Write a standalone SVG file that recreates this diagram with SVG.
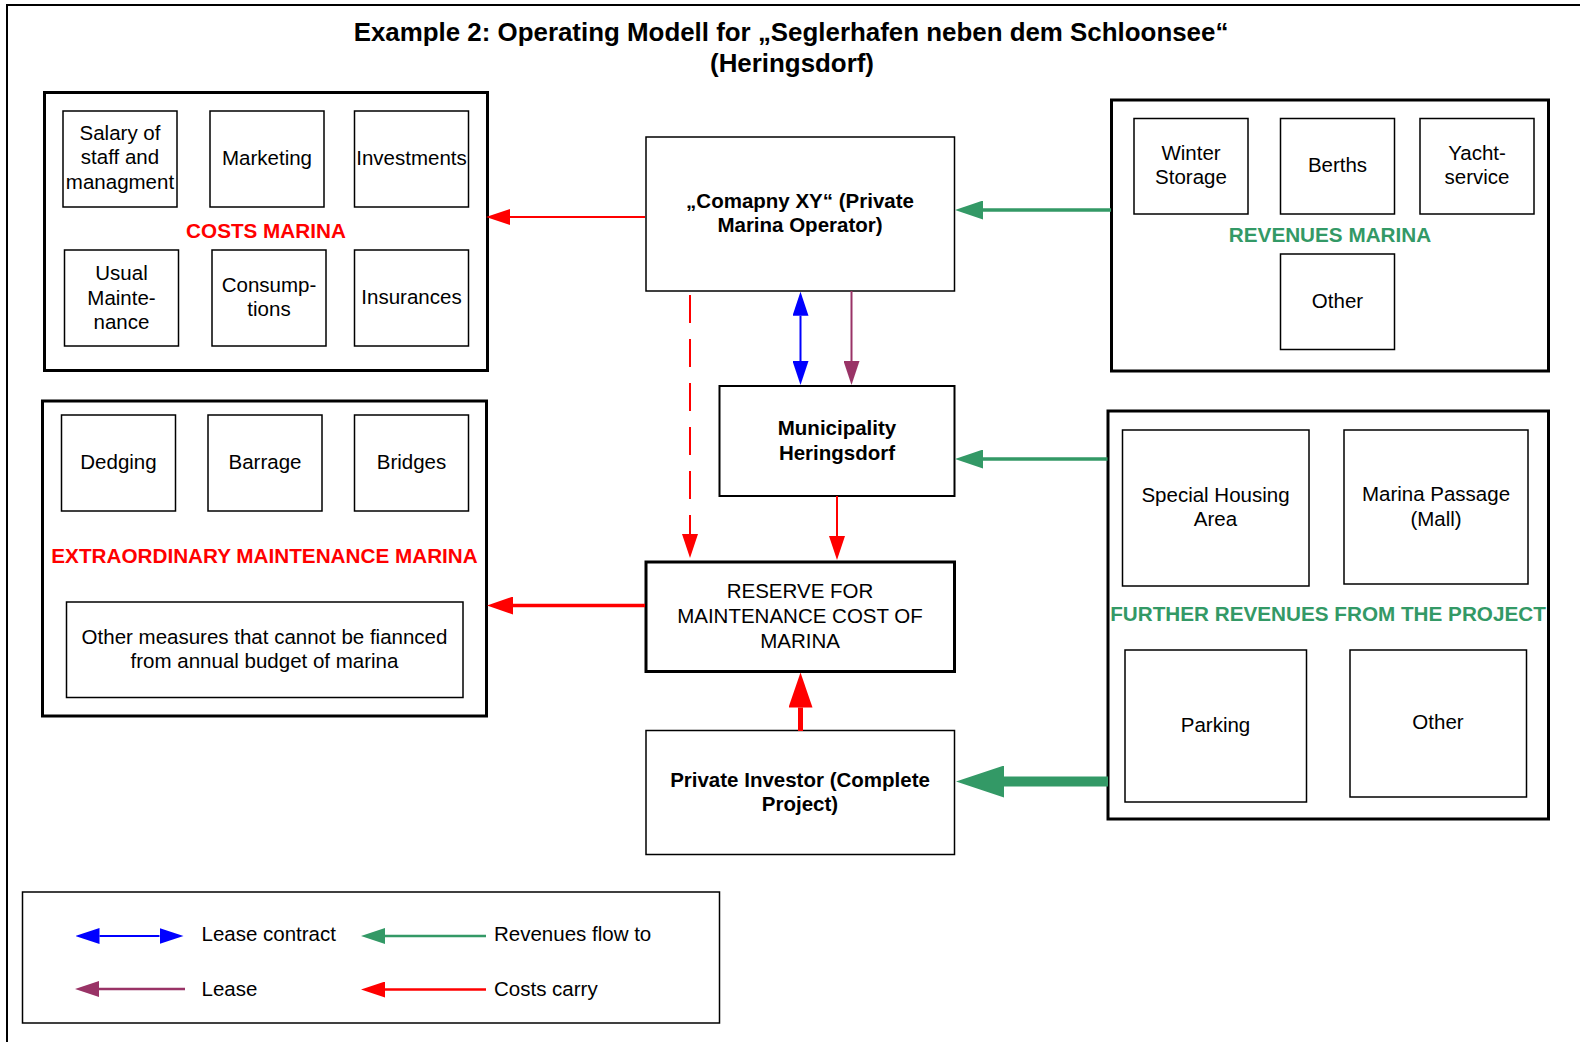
<svg xmlns="http://www.w3.org/2000/svg" width="1580" height="1042" viewBox="0 0 1580 1042">
<style>
  text { font-family: "Liberation Sans", Arial, sans-serif; font-size: 20.5px; fill: #000; text-anchor: middle; }
  .b { font-weight: bold; }
  .title { font-weight: bold; font-size: 25.9px; }
  .red { fill: #FF0000; font-weight: bold; font-size: 20.7px; }
  .grn { fill: #339966; font-weight: bold; font-size: 20.7px; }
  .lt { text-anchor: start; }
  .box { fill: #fff; stroke: #000; stroke-width: 1.5; }
  .med { fill: #fff; stroke: #000; stroke-width: 2; }
  .cont { fill: #fff; stroke: #000; stroke-width: 3; }
  .c { fill: none; }
</style>
<defs>
  <marker id="hRed" markerUnits="userSpaceOnUse" viewBox="0 -8 24 16" markerWidth="24" markerHeight="16" refX="0" refY="0" orient="auto"><path d="M0,-8 L24,0 L0,8 z" fill="#FF0000"/></marker>
  <marker id="hRedM" markerUnits="userSpaceOnUse" viewBox="0 -9 26 18" markerWidth="26" markerHeight="18" refX="0" refY="0" orient="auto"><path d="M0,-9 L26,0 L0,9 z" fill="#FF0000"/></marker>
  <marker id="hRedL" markerUnits="userSpaceOnUse" viewBox="0 -12 35 24" markerWidth="35" markerHeight="24" refX="0" refY="0" orient="auto"><path d="M0,-12 L35,0 L0,12 z" fill="#FF0000"/></marker>
  <marker id="hBlue" markerUnits="userSpaceOnUse" viewBox="0 -8 24 16" markerWidth="24" markerHeight="16" refX="0" refY="0" orient="auto-start-reverse"><path d="M0,-8 L24,0 L0,8 z" fill="#0000FF"/></marker>
  <marker id="hPur" markerUnits="userSpaceOnUse" viewBox="0 -8 24 16" markerWidth="24" markerHeight="16" refX="0" refY="0" orient="auto"><path d="M0,-8 L24,0 L0,8 z" fill="#993366"/></marker>
  <marker id="hGrn" markerUnits="userSpaceOnUse" viewBox="0 -9.5 28 19" markerWidth="28" markerHeight="19" refX="0" refY="0" orient="auto"><path d="M0,-9.5 L28,0 L0,9.5 z" fill="#339966"/></marker>
  <marker id="hGrnS" markerUnits="userSpaceOnUse" viewBox="0 -8 24 16" markerWidth="24" markerHeight="16" refX="0" refY="0" orient="auto"><path d="M0,-8 L24,0 L0,8 z" fill="#339966"/></marker>
  <marker id="hGrnL" markerUnits="userSpaceOnUse" viewBox="0 -16 48 32" markerWidth="48" markerHeight="32" refX="0" refY="0" orient="auto"><path d="M0,-16 L48,0 L0,16 z" fill="#339966"/></marker>
</defs>

<rect width="1580" height="1042" fill="#fff"/>
<path d="M7,1042 V5 H1580" fill="none" stroke="#000" stroke-width="2"/>

<g id="title">
  <text class="title" x="791" y="41">Example 2: Operating Modell for „Seglerhafen neben dem Schloonsee“</text>
  <text class="title" x="792" y="72">(Heringsdorf)</text>
</g>

<g id="costs-marina">
  <rect class="cont" x="44.5" y="92.5" width="443" height="278"/>
  <rect class="box" x="63" y="111" width="114" height="96"/>
  <text x="120" y="139.5">Salary of</text><text x="120" y="164">staff and</text><text x="120" y="188.5">managment</text>
  <rect class="box" x="210" y="111" width="114" height="96"/>
  <text x="267" y="165">Marketing</text>
  <rect class="box" x="354.5" y="111" width="114" height="96"/>
  <text x="411.5" y="165">Investments</text>
  <text class="red" x="266" y="238">COSTS MARINA</text>
  <rect class="box" x="64.5" y="250" width="114" height="96"/>
  <text x="121.5" y="280">Usual</text><text x="121.5" y="304.5">Mainte-</text><text x="121.5" y="329">nance</text>
  <rect class="box" x="212" y="250" width="114" height="96"/>
  <text x="269" y="291.5">Consump-</text><text x="269" y="316">tions</text>
  <rect class="box" x="354.5" y="250" width="114" height="96"/>
  <text x="411.5" y="303.5">Insurances</text>
</g>

<g id="extraordinary-maintenance">
  <rect class="cont" x="42.5" y="401" width="444" height="315"/>
  <rect class="box" x="61.5" y="415" width="114" height="96"/>
  <text x="118.5" y="469">Dedging</text>
  <rect class="box" x="208" y="415" width="114" height="96"/>
  <text x="265" y="469">Barrage</text>
  <rect class="box" x="354.5" y="415" width="114" height="96"/>
  <text x="411.5" y="469">Bridges</text>
  <text class="red" x="264.5" y="563">EXTRAORDINARY MAINTENANCE MARINA</text>
  <rect class="box" x="66.5" y="602" width="396.5" height="95.5"/>
  <text x="264.5" y="643.5">Other measures that cannot be fiannced</text>
  <text x="264.5" y="668">from annual budget of marina</text>
</g>

<g id="company-xy">
  <rect class="box" x="646" y="137" width="308.5" height="154"/>
  <text class="b" x="800" y="208">„Comapny XY“ (Private</text>
  <text class="b" x="800" y="232">Marina Operator)</text>
</g>

<g id="municipality">
  <rect class="med" x="719.5" y="386" width="235" height="110"/>
  <text class="b" x="837" y="435">Municipality</text>
  <text class="b" x="837" y="459.5">Heringsdorf</text>
</g>

<g id="reserve">
  <rect class="cont" x="646" y="562" width="308.5" height="109.5"/>
  <text x="800" y="598">RESERVE FOR</text>
  <text x="800" y="623">MAINTENANCE COST OF</text>
  <text x="800" y="647.5">MARINA</text>
</g>

<g id="private-investor">
  <rect class="box" x="646" y="730.5" width="308.5" height="124"/>
  <text class="b" x="800" y="786.5">Private Investor (Complete</text>
  <text class="b" x="800" y="811">Project)</text>
</g>

<g id="revenues-marina">
  <rect class="cont" x="1111.5" y="100" width="437" height="271"/>
  <rect class="box" x="1134" y="118.5" width="114" height="95.5"/>
  <text x="1191" y="159.5">Winter</text><text x="1191" y="184">Storage</text>
  <rect class="box" x="1280.5" y="118.5" width="114" height="95.5"/>
  <text x="1337.5" y="171.5">Berths</text>
  <rect class="box" x="1420" y="118.5" width="114" height="95.5"/>
  <text x="1477" y="159.5">Yacht-</text><text x="1477" y="184">service</text>
  <text class="grn" x="1330" y="242">REVENUES MARINA</text>
  <rect class="box" x="1280.5" y="254" width="114" height="95.5"/>
  <text x="1337.5" y="307.5">Other</text>
</g>

<g id="further-revenues">
  <rect class="cont" x="1108" y="411" width="440.5" height="408"/>
  <rect class="box" x="1122.5" y="430" width="186.5" height="156"/>
  <text x="1215.5" y="501.5">Special Housing</text><text x="1215.5" y="526">Area</text>
  <rect class="box" x="1344" y="430" width="184" height="154"/>
  <text x="1436" y="501">Marina Passage</text><text x="1436" y="525.5">(Mall)</text>
  <text class="grn" x="1328" y="621">FURTHER REVENUES FROM THE PROJECT</text>
  <rect class="box" x="1125" y="650" width="181.5" height="152"/>
  <text x="1215.5" y="732">Parking</text>
  <rect class="box" x="1350" y="650" width="176.5" height="147"/>
  <text x="1438" y="729">Other</text>
</g>

<g id="connectors" class="c">
  <line x1="645" y1="217" x2="510" y2="217" stroke="#FF0000" stroke-width="2" marker-end="url(#hRed)"/>
  <line x1="1111" y1="210" x2="983" y2="210" stroke="#339966" stroke-width="3.5" marker-end="url(#hGrn)"/>
  <line x1="800.5" y1="315.7" x2="800.5" y2="361" stroke="#0000FF" stroke-width="2" marker-start="url(#hBlue)" marker-end="url(#hBlue)"/>
  <line x1="851.5" y1="291" x2="851.5" y2="361" stroke="#993366" stroke-width="2" marker-end="url(#hPur)"/>
  <line x1="690" y1="295" x2="690" y2="534" stroke="#FF0000" stroke-width="2" stroke-dasharray="28 16" marker-end="url(#hRed)"/>
  <line x1="837" y1="496" x2="837" y2="536" stroke="#FF0000" stroke-width="2" marker-end="url(#hRed)"/>
  <line x1="1107.5" y1="459" x2="983" y2="459" stroke="#339966" stroke-width="3.5" marker-end="url(#hGrn)"/>
  <line x1="645" y1="605.5" x2="513" y2="605.5" stroke="#FF0000" stroke-width="3.5" marker-end="url(#hRedM)"/>
  <line x1="800.5" y1="731" x2="800.5" y2="707.5" stroke="#FF0000" stroke-width="5" marker-end="url(#hRedL)"/>
  <line x1="1108" y1="781.5" x2="1004" y2="781.5" stroke="#339966" stroke-width="10" marker-end="url(#hGrnL)"/>
</g>

<g id="legend">
  <rect class="box" x="22.5" y="892" width="697" height="131"/>
  <line x1="99.5" y1="936" x2="159.5" y2="936" stroke="#0000FF" stroke-width="2" marker-start="url(#hBlue)" marker-end="url(#hBlue)"/>
  <text class="lt" x="201.5" y="941">Lease contract</text>
  <line x1="486" y1="936" x2="385" y2="936" stroke="#339966" stroke-width="2.5" marker-end="url(#hGrnS)"/>
  <text class="lt" x="494" y="941">Revenues flow to</text>
  <line x1="185" y1="989" x2="99" y2="989" stroke="#993366" stroke-width="2.5" marker-end="url(#hPur)"/>
  <text class="lt" x="201.5" y="995.5">Lease</text>
  <line x1="486" y1="989.5" x2="385" y2="989.5" stroke="#FF0000" stroke-width="2.5" marker-end="url(#hRed)"/>
  <text class="lt" x="494" y="995.5">Costs carry</text>
</g>
</svg>
